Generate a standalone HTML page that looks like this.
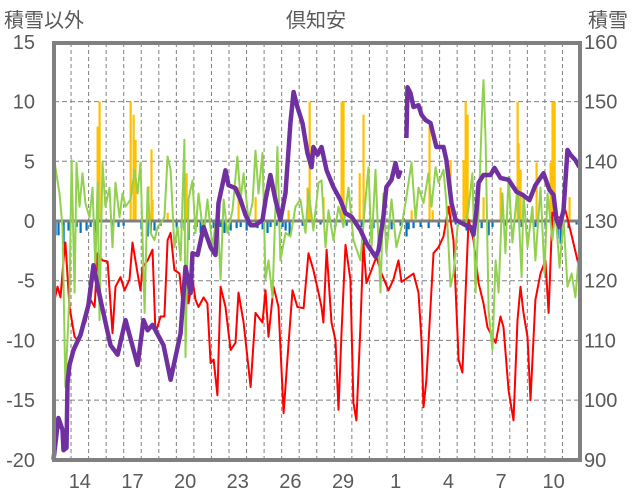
<!DOCTYPE html>
<html><head><meta charset="utf-8">
<style>
html,body{margin:0;padding:0;background:#fff;}
svg{display:block;font-family:"Liberation Sans","Noto Sans CJK JP",sans-serif;}
</style></head>
<body>
<svg id="chart" width="636" height="501" viewBox="0 0 636 501" xmlns="http://www.w3.org/2000/svg">
<text x="4" y="27" font-size="20" fill="#595959">積雪以外</text>
<text x="316" y="27" font-size="20" fill="#595959" text-anchor="middle">倶知安</text>
<text x="588" y="27" font-size="20" fill="#595959">積雪</text>
<g id="grid"></g>
<g id="bars"></g>
<g id="lines"></g>
<g id="axes"></g>
</svg>
<script>
const xTickLabels = ["14","17","20","23","26","29","1","4","7","10"];
const leftTicks = [15,10,5,0,-5,-10,-15,-20];
const rightTicks = [160,150,140,130,120,110,100,90];

const snowT = [0,0.28,0.51,0.57,0.74,0.8,0.91,1.14,1.54,1.99,2.28,2.68,3.25,3.65,4.1,4.79,5.13,5.36,5.64,6.27,6.67,7.24,7.52,7.81,7.92,8.21,8.55,8.95,9.23,9.4,9.8,9.97,10.37,10.66,10.94,11.23,11.51,11.91,12.08,12.36,12.65,12.93,13.22,13.5,13.68,13.9,14.19,14.47,14.7,14.81,15.04,15.27,15.56,15.95,16.35,16.64,16.98,17.49,17.83,18.35,18.52,18.8,18.97,19.26,19.49,19.66,19.77,20.11,20.17,20.34,20.51,20.8,20.97,21.2,21.48,21.82,22.22,22.39,22.68,22.91,23.48,23.76,23.93,24.1,24.22,24.5,24.9,25.13,25.47,25.93,26.38,26.72,27.12,27.46,27.92,28.26,28.49,28.66,28.83,29.06,29.29,29.46,29.74,29.97];
const snowV = [90,97,95,91.6,92,102.9,105.9,108.4,110.9,115.9,122.6,116.8,109.2,107.6,113.4,105.9,113.4,111.7,112.6,109.2,103.4,111.2,122.3,117.9,124.6,124.3,129,125.6,124.3,133,138.5,136,135.5,133.5,131,129.3,129.3,130.2,133.5,137.7,133.5,130.2,134.7,146.4,151.6,149.1,146.4,141.4,139,142.4,141.1,142.4,138.5,135.7,133.5,131.3,130.7,128.5,126.3,124,125.1,130.7,135.7,136.9,139.7,137.4,138.5,143.9,152.4,151.4,149.1,149.4,147.8,146.9,146.4,142.4,142.4,140.2,133,130.2,129.3,129,127.7,131.8,136.4,137.7,137.7,138.9,137.2,136.9,134.9,134.4,133.5,136,138,135.2,134.4,130.2,129,131.8,141.9,141.1,140.2,139];
const snowBreakAfter = 19.77;

const tempT = [0.06,0.23,0.4,0.63,0.68,0.91,1.2,1.37,1.65,1.82,2.11,2.34,2.51,2.79,3.08,3.36,3.53,3.82,4.05,4.33,4.5,4.79,4.96,5.07,5.36,5.64,5.81,6.1,6.32,6.5,6.67,6.89,7.18,7.35,7.52,7.69,7.92,8.09,8.26,8.55,8.77,8.95,9.12,9.34,9.52,9.8,10.09,10.37,10.54,10.83,11.23,11.51,11.91,12.08,12.25,12.54,12.82,13.11,13.33,13.62,13.9,14.25,14.53,14.81,15.1,15.27,15.38,15.56,15.84,16.07,16.24,16.41,16.64,16.92,17.09,17.26,17.49,17.66,17.83,18.12,18.4,18.69,19.09,19.37,19.66,19.83,20.23,20.51,20.8,20.97,21.08,21.25,21.48,21.65,21.94,22.22,22.51,22.68,22.79,23.08,23.3,23.48,23.65,23.93,24.22,24.5,24.73,25.01,25.19,25.47,25.64,25.93,26.21,26.44,26.61,26.78,27.01,27.18,27.46,27.75,28.03,28.21,28.43,28.6,28.89,29.17,29.46,29.86,30.03];
const tempV = [-6.6,-5.5,-6.4,-2.2,-1.8,-7.2,-9.7,-10,-8.9,-8.5,-6.6,-7.2,-2.7,-3.3,-3.4,-9.4,-5.5,-4.7,-5.8,-4.9,-1.8,-4.4,-5.8,-3.9,-3.3,-2.4,-9.4,-8,-8,-1.6,-1,-4.1,-4.4,-6.9,-4.1,-6.9,-4.9,-6.6,-7.2,-6.4,-6.9,-11.9,-11.6,-14.6,-5.5,-7.2,-10.8,-10.2,-6,-8.5,-13.9,-7.7,-8.5,-5.8,-9.7,-5.5,-7.2,-16.1,-11.6,-5.8,-7.2,-7.3,-2.7,-4.1,-6,-7.2,-8.5,-2.4,-8.5,-10,-15.8,-9.4,-2,-4.9,-15.2,-16.7,-8.9,-1.8,-5.2,-4.1,-3,-4.4,-5.8,-4.9,-3.3,-5.1,-4.7,-4.4,-6,-10,-15.6,-13.3,-7.2,-2.7,-2.2,-1.3,1.2,-0.5,-1.6,-11.6,-12.7,-6,0.1,-1.6,-5.2,-6.9,-8.9,-9.7,-10.2,-8,-8.9,-14.2,-16.7,-8.3,-5.5,-7.7,-9.7,-15,-6.6,-4.4,-3.3,-7.7,0.7,0.3,0.3,0.9,-0.8,-3.3,-4.4];

const greenT = [0.06,0.34,0.51,0.68,0.91,1.03,1.2,1.31,1.48,1.65,1.82,2.05,2.22,2.39,2.51,2.62,2.79,2.96,3.19,3.36,3.53,3.76,3.93,4.1,4.39,4.62,4.79,4.96,5.19,5.36,5.53,5.75,5.93,6.1,6.32,6.5,6.67,6.89,7.07,7.24,7.46,7.52,7.69,7.92,8.09,8.26,8.55,8.77,9.06,9.34,9.52,9.69,9.91,10.2,10.48,10.66,10.83,11.11,11.34,11.51,11.68,11.91,12.08,12.25,12.48,12.76,12.93,13.22,13.5,13.79,14.07,14.36,14.53,14.81,15.1,15.27,15.5,15.67,15.95,16.24,16.52,16.81,17.09,17.49,17.78,17.95,18.12,18.35,18.63,18.8,18.97,19.26,19.54,19.83,20.11,20.4,20.63,20.8,21.08,21.37,21.54,21.77,21.94,22.22,22.39,22.62,22.79,23.02,23.19,23.48,23.65,23.87,24.05,24.22,24.44,24.5,24.62,24.79,25.01,25.19,25.36,25.58,25.75,25.93,26.15,26.44,26.67,26.78,27.01,27.29,27.46,27.75,27.98,28.15,28.43,28.6,28.83,29.06,29.29,29.52,29.74,29.91];
const greenV = [4.9,2.3,-0.5,-13.9,-6,5.1,-6,4.9,1.2,4,1.5,0.3,2.8,-3.9,3.2,-8.3,4.9,1.2,2.8,-2.2,3.2,0.3,2.3,1.2,1.8,4.3,2.3,4.9,-7.7,2.8,-1,-1.6,-0.5,-0.2,0.3,5.4,4.3,-2.2,-0.5,-3.3,6.8,-11.4,1.8,3.4,-1,2.3,-1.3,1.8,-2.2,0.9,-4.9,1.8,-1,0.9,5.4,1.8,4,0.1,1.5,5.9,2.3,5.7,-4.9,-3.3,-6.4,6.2,-3.3,-1,-1.3,1.2,1.8,-1,2.6,-0.8,3.2,3.4,-2.2,0.9,-1.6,1.2,-0.5,2.8,-1.6,-3.3,1.8,4.5,-2.2,4.3,-6,2.3,-2.7,1.8,-2.2,-0.5,2,4.9,0.1,2.8,1.5,4,1.2,4.5,3.2,4.3,1.5,-5.5,-4.4,-0.5,0.1,-0.5,1.2,4,-6,0.7,10.1,11.8,6.8,-7.5,-10.8,-3.3,-6,2.3,-2.7,3.7,-1.8,2.8,-4.7,2.3,-2.2,1.2,-3.3,2.8,-4.4,2.3,-1.6,0.9,-3.9,0.1,-5.5,-4.4,-6.4,-3.3];

const snowfallT = [2.51,2.62,4.39,4.56,4.67,5.41,5.58,5.64,6.5,7.58,10.54,11.51,13.39,14.47,14.59,15.38,16.41,16.52,17.44,17.66,20.4,21.42,21.6,22.62,23.36,23.48,23.59,24.5,25.47,26.44,26.5,26.61,27.52,28.32,28.43,28.55,29.4];
const snowfallV = [7.9,10,10,8.9,6.8,2.9,6,1.8,0.7,4,2.8,2,0.9,2.8,10,2,10,10,4,8.9,0.9,7.9,0.9,5.1,5.1,10,8.9,2,2.8,10,6.5,4.3,4.9,4.9,10,10,2];

const precipT = [0.11,0.28,0.57,0.85,1.31,1.54,1.88,2.11,2.34,3.36,3.7,3.99,5.01,5.36,5.53,5.75,6.1,7.01,7.29,7.46,7.69,8.15,8.38,8.6,9.12,9.52,9.74,10.09,10.43,10.66,11,11.17,11.62,11.91,12.19,12.36,12.71,13.05,13.22,13.45,14.19,15.21,16.07,16.7,17.55,18.23,18.8,19.26,19.77,20.11,20.23,20.51,20.91,21.37,21.94,22.91,23.53,24.39,24.79,25.01,25.75,26.67,27.46,28.03,28.72,28.89,29.06,29.34,29.8];
const precipV = [-1.2,-1.2,-2,-0.8,-0.5,-1,-0.8,-0.5,-1,-0.6,-0.5,-0.4,-0.7,-1.3,-1,-0.8,-0.4,-0.5,-0.6,-0.8,-1.6,-0.5,-1,-0.8,-0.6,-0.5,-1,-0.8,-0.6,-0.5,-0.8,-0.4,-0.6,-0.7,-1,-0.5,-0.4,-0.5,-0.8,-1.2,-0.4,-0.3,-0.4,-0.4,-0.5,-0.6,-0.5,-0.7,-0.4,-1.3,-0.7,-0.6,-0.5,-0.6,-0.5,-0.3,-0.8,-0.6,-1.2,-0.5,-0.4,-0.5,-0.5,-0.4,-1.5,-1.9,-1,-0.6,-0.3];

const NS = "http://www.w3.org/2000/svg";
const X0 = 53.5, DAYW = 17.55, Y0 = 221, UNIT = 11.94, PL = 54, PR = 580, PT = 43, PB = 460;
function xs(d){ return X0 + d*DAYW; }
function yl(v){ return Y0 - v*UNIT; }
function yr(s){ return Y0 - (s-130)*UNIT/2; }
function mk(tag, attrs, parent){ const e=document.createElementNS(NS,tag); for(const k in attrs) e.setAttribute(k,attrs[k]); parent.appendChild(e); return e; }

const grid = document.getElementById('grid');
for (let k=1;k<30;k++){
  const l = mk('line',{x1:xs(k),x2:xs(k),y1:PT,y2:PB,stroke:'#808080','stroke-width':1,'stroke-dasharray':'4,3'},grid);
  
  
}
leftTicks.forEach(v=>{
  if (v===0||v===15||v===-20) return;
  const l = mk('line',{x1:PL,x2:PR,y1:yl(v),y2:yl(v),stroke:'#808080','stroke-width':1,'stroke-dasharray':'5,3'},grid);
  
  
});

const bars = document.getElementById('bars');
precipT.forEach((t,i)=>{
  const y=yl(precipV[i]);
  const r = mk('rect',{x:xs(t)-1,y:Y0,width:2.2,height:y-Y0,fill:'#0070c0'},bars);
  
  
});
snowfallT.forEach((t,i)=>{
  const y=yl(snowfallV[i]);
  const r = mk('rect',{x:xs(t)-1,y:y,width:2.2,height:Y0-y,fill:'#ffc000'},bars);
  
  
});

const lines = document.getElementById('lines');
function pathFrom(T,V,yf,breakAfter){
  let d='';
  T.forEach((t,i)=>{ const cmd = (i===0 || (breakAfter!==undefined && T[i-1]===breakAfter)) ? 'M':'L'; d+=cmd+xs(t).toFixed(1)+','+yf(V[i]).toFixed(1)+' '; });
  return d;
}
const zl = mk('line',{x1:PL,x2:PR,y1:Y0,y2:Y0,stroke:'#808080','stroke-width':3},lines);


const redP = mk('path',{d:pathFrom(tempT,tempV,yl),fill:'none',stroke:'#ff0000','stroke-width':2,'stroke-linejoin':'round'},lines);


const greenP = mk('path',{d:pathFrom(greenT,greenV,yl),fill:'none',stroke:'#92d050','stroke-width':2,'stroke-linejoin':'round'},lines);


const purpleP = mk('path',{d:pathFrom(snowT,snowV,yr,snowBreakAfter),fill:'none',stroke:'#7030a0','stroke-width':4.5,'stroke-linejoin':'round'},lines);



const axes = document.getElementById('axes');
const frame = mk('rect',{x:PL,y:PT,width:PR-PL,height:PB-PT,fill:'none',stroke:'#808080','stroke-width':4},axes);


leftTicks.forEach(v=>{
  const t = mk('text',{x:35,y:yl(v)+7,'font-size':20,fill:'#595959','text-anchor':'end'},axes);
  t.textContent = String(v);
  
  
});
rightTicks.forEach(s=>{
  const t = mk('text',{x:584,y:yr(s)+7,'font-size':20,fill:'#595959'},axes);
  t.textContent = String(s);
  
  
});
xTickLabels.forEach((lab,i)=>{
  const t = mk('text',{x:xs(1+3*i+0.5),y:488,'font-size':20,fill:'#595959','text-anchor':'middle'},axes);
  t.textContent = lab;
  
  
});
</script>
</body></html>
